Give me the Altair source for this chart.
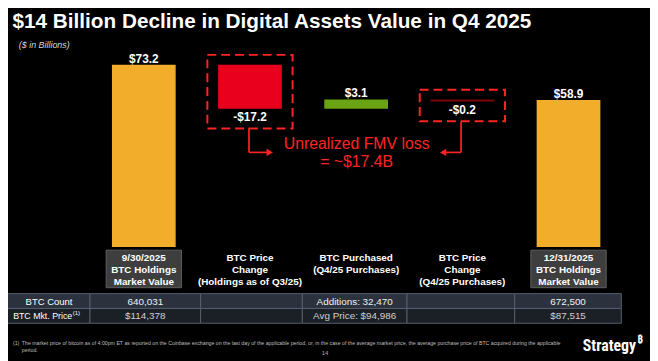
import altair as alt
import pandas as pd

# ---------------- data ----------------
cat_keys = ["q3_value", "price_q3", "purchased", "price_q4", "q4_value"]
cat_labels = [
    "9/30/2025\nBTC Holdings\nMarket Value",
    "BTC Price\nChange\n(Holdings as of Q3/25)",
    "BTC Purchased\n(Q4/25 Purchases)",
    "BTC Price\nChange\n(Q4/25 Purchases)",
    "12/31/2025\nBTC Holdings\nMarket Value",
]
step_values = [73.2, -17.2, 3.1, -0.2, 58.9]
step_is_total = [True, False, False, False, True]
value_labels = ["$73.2", "-$17.2", "$3.1", "-$0.2", "$58.9"]
boxed_categories = ["q3_value", "q4_value"]      # grey label boxes
callout_categories = ["price_q3", "price_q4"]    # dashed red boxes

table_row_labels = ["BTC Count", "BTC Mkt. Price"]
btc_count_row = ["640,031", "", "Additions: 32,470", "", "672,500"]
btc_price_row = ["$114,378", "", "Avg Price: $94,986", "", "$87,515"]

title_text = "$14 Billion Decline in Digital Assets Value in Q4 2025"
subtitle_text = "($ in Billions)"
callout_text = "Unrealized FMV loss\n= ~$17.4B"
footnote_marker = "(1)"
footnote_lines = (
    "The market price of bitcoin as of 4:00pm ET as reported on the Coinbase exchange on the last day "
    "of the applicable period, or, in the case of the average market price, the average purchase price "
    "of BTC acquired during the applicable\nperiod."
)
page_number = "14"
logo_text = "Strategy"
logo_mark = "\u20bf"

# ---------------- styles / layout ----------------
W, H = 650, 353
BG = "#000000"
BAR_COLORS = ["#f2ae2b", "#e8001c", "#6aa314", "#7a0606", "#f2ae2b"]
RED = "#ff2424"
FONT = "Liberation Sans, Arial, sans-serif"
NARROW = "Liberation Sans Narrow, Roboto Condensed, Liberation Sans, sans-serif"

xscale = alt.Scale(domain=cat_keys, range=[83.75, 621.25], paddingInner=0.414, paddingOuter=0.207)
yscale = alt.Scale(domain=[0, 95.6], range=[239, 0])

# ---------------- derived tables ----------------
rows = []
running = 0.0
for k, lab, v, tot, vl, col in zip(cat_keys, cat_labels, step_values, step_is_total, value_labels, BAR_COLORS):
    if tot:
        lo, hi = 0.0, v
        running = v
    else:
        new = running + v
        lo, hi = min(running, new), max(running, new)
        running = new
    rows.append(dict(key=k, label=lab, v=v, lo=lo, hi=hi, vlabel=vl, color=col))
bars_df = pd.DataFrame(rows)
bars_df["box_top"] = bars_df["hi"] + 4.3
bars_df["box_bot"] = bars_df["lo"] - 8.3

X = alt.X("key:N", scale=xscale, axis=None)

bars = alt.Chart(bars_df).mark_bar(strokeWidth=1.5).encode(
    x=X,
    y=alt.Y("lo:Q", scale=yscale, axis=None),
    y2="hi:Q",
    color=alt.Color("color:N", scale=None),
    stroke=alt.Stroke("color:N", scale=None),
)

pos_labels = alt.Chart(bars_df[bars_df.v > 0]).mark_text(
    font=FONT, fontSize=12, fontWeight="bold", color="white", baseline="middle", dy=-7
).encode(x=X, y=alt.Y("hi:Q", scale=yscale, axis=None), text="vlabel:N")

neg_labels = alt.Chart(bars_df[bars_df.v < 0]).mark_text(
    font=FONT, fontSize=12, fontWeight="bold", color="white", baseline="middle", dy=9
).encode(x=X, y=alt.Y("lo:Q", scale=yscale, axis=None), text="vlabel:N")

callout_boxes = alt.Chart(bars_df[bars_df.key.isin(callout_categories)]).mark_bar(
    width={"band": 1.37}, fillOpacity=0, stroke=RED, strokeWidth=2, strokeDash=[9, 5]
).encode(
    x=X,
    y=alt.Y("box_top:Q", scale=yscale, axis=None),
    y2="box_bot:Q",
)

label_boxes = alt.Chart(bars_df[bars_df.key.isin(boxed_categories)]).mark_bar(
    width={"band": 1.21}, fill="#3e3e3e", stroke="#606060", strokeWidth=1
).encode(x=X, y=alt.value(243), y2=alt.value(281))

cat_text = alt.Chart(bars_df).mark_text(
    font=FONT, fontSize=10, fontWeight="bold", color="white", baseline="alphabetic",
    lineBreak="\n", lineHeight=12.5
).encode(x=X, y=alt.value(253.6), text="label:N")

# ---------------- table ----------------
col_edges = [-2, 83, 195, 298, 404, 513, 621]
row_edges = [287, 302, 317]
row_fills = ["#2b323d", "#1b1f26"]
row_text_colors = ["#f2f2f2", "#cfcfcf"]

cells = []
texts = []
table_rows = [btc_count_row, btc_price_row]
for r in range(2):
    for c in range(6):
        cells.append(dict(x0=col_edges[c], x1=col_edges[c + 1], y0=row_edges[r], y1=row_edges[r + 1], fill=row_fills[r]))
    yc = (row_edges[r] + row_edges[r + 1]) / 2 + 0.5
    for c, t in enumerate(table_rows[r]):
        if t:
            texts.append(dict(cx=(col_edges[c + 1] + col_edges[c + 2]) / 2, cy=yc, t=t, col=row_text_colors[r]))
cells_df = pd.DataFrame(cells)
texts_df = pd.DataFrame(texts)

table_cells = alt.Chart(cells_df).mark_rect(stroke="#56606e", strokeWidth=1).encode(
    x=alt.X("x0:Q", scale=None), x2="x1:Q",
    y=alt.Y("y0:Q", scale=None), y2="y1:Q",
    fill=alt.Fill("fill:N", scale=None),
)
table_text = alt.Chart(texts_df).mark_text(font=FONT, fontSize=10, baseline="middle").encode(
    x=alt.X("cx:Q", scale=None), y=alt.Y("cy:Q", scale=None), text="t:N",
    color=alt.Color("col:N", scale=None),
)
row_label_1 = alt.Chart(pd.DataFrame({"t": [table_row_labels[0]]})).mark_text(
    font=FONT, fontSize=9.6, color="white", baseline="middle", align="center"
).encode(x=alt.value((col_edges[0] + col_edges[1]) / 2 + 1), y=alt.value(295), text="t:N")
row_label_2 = alt.Chart(pd.DataFrame({"t": [table_row_labels[1]]})).mark_text(
    font=FONT, fontSize=8.9, color="white", baseline="middle", align="right"
).encode(x=alt.value(65), y=alt.value(310), text="t:N")
row_label_sup = alt.Chart(pd.DataFrame({"t": [footnote_marker]})).mark_text(
    font=FONT, fontSize=6, color="white", baseline="middle", align="left"
).encode(x=alt.value(65.5), y=alt.value(307), text="t:N")

# ---------------- annotations ----------------
def txt(s, x, y, **kw):
    return alt.Chart(pd.DataFrame({"t": [s]})).mark_text(**kw).encode(
        x=alt.value(x), y=alt.value(y), text="t:N")

title = txt(title_text, 4.5, 18, font=FONT, fontSize=21, fontWeight="bold", color="white",
            align="left", baseline="alphabetic")
subtitle = txt(subtitle_text, 11, 35, font=FONT, fontSize=9, fontStyle="italic", color="#d6d6d6",
               align="left", baseline="middle")
callout = txt(callout_text, 353, 140.3, font=FONT, fontSize=16, color=RED, align="center",
              baseline="alphabetic", lineBreak="\n", lineHeight=18.2)

def rule(x, y, x2=None, y2=None):
    enc = dict(x=alt.value(x), y=alt.value(y))
    if x2 is not None:
        enc["x2"] = alt.value(x2)
    if y2 is not None:
        enc["y2"] = alt.value(y2)
    return alt.Chart(pd.DataFrame({"a": [0]})).mark_rule(color=RED, strokeWidth=1.7).encode(**enc)

def head(x, y, shape):
    return alt.Chart(pd.DataFrame({"a": [0]})).mark_point(
        shape=shape, filled=True, size=55, color=RED, opacity=1
    ).encode(x=alt.value(x), y=alt.value(y))

arrows = [
    rule(244, 119, y2=144), rule(244, 144, x2=263), head(265, 144, "triangle-right"),
    rule(458.7, 113, y2=144), rule(441, 144, x2=458.7), head(440.5, 144, "triangle-left"),
]

foot_mark = txt(footnote_marker, 5, 339, font=FONT, fontSize=5.3, color="#bdbdbd", align="left",
                baseline="alphabetic")
foot = txt(footnote_lines, 14, 339, font=FONT, fontSize=5.3, color="#bdbdbd", align="left",
           baseline="alphabetic", lineBreak="\n", lineHeight=7)
page = txt(page_number, 321, 349, font=FONT, fontSize=6, color="#aaaaaa", align="center",
           baseline="alphabetic")
logo = txt(logo_text, 582, 345, font=NARROW, fontSize=16, fontWeight="bold", color="white",
           align="left", baseline="alphabetic")
logo_b = txt(logo_mark, 637, 337, font="Noto Sans, DejaVu Sans, sans-serif", fontSize=10,
             fontWeight="bold", color="white", align="left", baseline="alphabetic")

chart = alt.layer(
    label_boxes, bars, callout_boxes, pos_labels, neg_labels, cat_text,
    table_cells, table_text, row_label_1, row_label_2, row_label_sup,
    title, subtitle, callout, *arrows, foot_mark, foot, page, logo, logo_b,
).resolve_scale(x="independent", y="independent").properties(
    width=W, height=H, background=BG, padding=0, autosize="none"
).configure_view(strokeWidth=0)

chart.save("out.html", embed_options={"renderer": "svg", "actions": False})
